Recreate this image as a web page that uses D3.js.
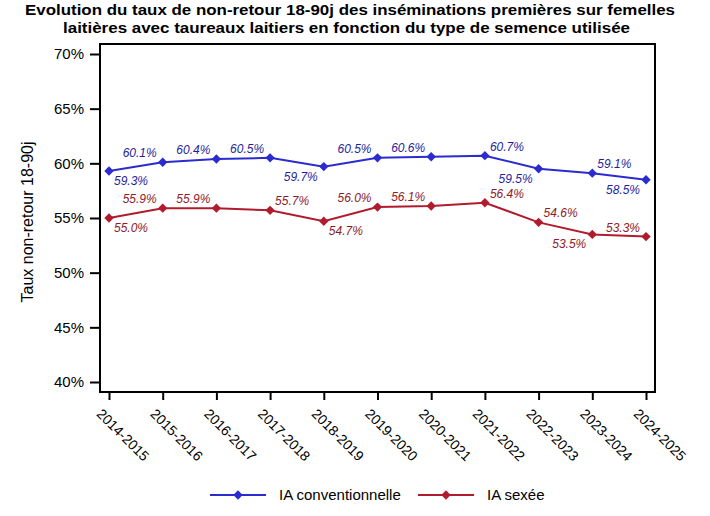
<!DOCTYPE html>
<html>
<head>
<meta charset="utf-8">
<script src="https://cdnjs.cloudflare.com/ajax/libs/d3/7.8.5/d3.min.js"></script>
<style>
  body { margin: 0; background: #ffffff; }
  svg text { font-family: Arial, "Liberation Sans", sans-serif; }
</style>
</head>
<body>
<div id="chart"></div>
<script>
// campagnes
var seasons = ["2014-2015", "2015-2016", "2016-2017", "2017-2018", "2018-2019", "2019-2020",
               "2020-2021", "2021-2022", "2022-2023", "2023-2024", "2024-2025"];
// taux de non-retour (%)
var conventional = [59.3, 60.1, 60.4, 60.5, 59.7, 60.5, 60.6, 60.7, 59.5, 59.1, 58.5];
var sexed        = [55.0, 55.9, 55.9, 55.7, 54.7, 56.0, 56.1, 56.4, 54.6, 53.5, 53.3];
// where each value label sits around its point
var convLabelSide  = ["br", "al", "al", "al", "bl", "al", "al", "ar", "bl", "ar", "bl"];
var sexedLabelSide = ["br", "al", "al", "ar", "br", "al", "al", "ar", "ar", "bl", "al"];
var yTicks = [40, 45, 50, 55, 60, 65, 70];
var seriesNames = ["IA conventionnelle", "IA sexée"];
var titleLines = ["Evolution du taux de non-retour 18-90j des inséminations premières sur femelles",
                  "laitières avec taureaux laitiers en fonction du type de semence utilisée"];

var W = 710, H = 516;
var frame = { left: 100, top: 44, right: 655, bottom: 392 };

var svg = d3.select("#chart").append("svg")
    .attr("width", W).attr("height", H);

// title (stretched to the width it has in the original)
svg.append("text")
    .attr("x", 25).attr("y", 15)
    .attr("textLength", 650).attr("lengthAdjust", "spacingAndGlyphs")
    .style("font-weight", "bold").style("font-size", "15px")
    .text(titleLines[0]);
svg.append("text")
    .attr("x", 63).attr("y", 33)
    .attr("textLength", 567).attr("lengthAdjust", "spacingAndGlyphs")
    .style("font-weight", "bold").style("font-size", "15px")
    .text(titleLines[1]);

var x = d3.scalePoint().domain(seasons).range([109, 646]);
var y = d3.scaleLinear().domain([40, 70]).range([382, 54]);

// frame
svg.append("rect")
    .attr("x", frame.left).attr("y", frame.top)
    .attr("width", frame.right - frame.left).attr("height", frame.bottom - frame.top)
    .attr("fill", "none").attr("stroke", "#000").attr("stroke-width", 2);

// y axis
var yAxis = svg.append("g")
    .attr("transform", "translate(" + frame.left + ",0)")
    .call(d3.axisLeft(y).tickValues(yTicks).tickSize(10).tickPadding(6)
        .tickFormat(function(d) { return d + "%"; }));
yAxis.select(".domain").remove();
yAxis.selectAll(".tick line").attr("stroke-width", 2);
yAxis.selectAll("text").style("font-size", "15px").attr("fill", "#000");

svg.append("text")
    .attr("transform", "translate(33," + ((frame.top + frame.bottom) / 2 + 4) + ") rotate(-90)")
    .attr("text-anchor", "middle")
    .style("font-size", "16px")
    .text("Taux non-retour 18-90j");

// x axis
var xAxis = svg.append("g")
    .attr("transform", "translate(0," + frame.bottom + ")")
    .call(d3.axisBottom(x).tickSize(8).tickPadding(0));
xAxis.select(".domain").remove();
xAxis.selectAll(".tick line").attr("stroke-width", 2);
xAxis.selectAll("text")
    .style("font-size", "14px")
    .attr("fill", "#000")
    .attr("text-anchor", "start")
    .attr("dy", null)
    .attr("transform", "translate(-8,17) rotate(45)");

var diamond = d3.symbol().type(d3.symbolSquare).size(44);

function drawSeries(values, sides, lineColor, labelColor) {
    var pts = values.map(function(v, i) { return { s: seasons[i], v: v, side: sides[i] }; });
    svg.append("path")
        .datum(pts)
        .attr("fill", "none")
        .attr("stroke", lineColor)
        .attr("stroke-width", 2)
        .attr("d", d3.line().x(function(d) { return x(d.s); }).y(function(d) { return y(d.v); }));
    svg.selectAll(null).data(pts).enter().append("path")
        .attr("d", diamond)
        .attr("fill", lineColor)
        .attr("transform", function(d) { return "translate(" + x(d.s) + "," + y(d.v) + ") rotate(45)"; });
    svg.selectAll(null).data(pts).enter().append("text")
        .attr("x", function(d) { return x(d.s) + (d.side[1] === "r" ? 5 : -6); })
        .attr("y", function(d) { return y(d.v) + (d.side[0] === "b" ? 14 : -5); })
        .attr("text-anchor", function(d) { return d.side[1] === "r" ? "start" : "end"; })
        .style("font-size", "12px")
        .style("font-style", "italic")
        .attr("fill", labelColor)
        .text(function(d) { return d.v.toFixed(1) + "%"; });
}

drawSeries(conventional, convLabelSide, "#2b2bcf", "#1f1f9e");
drawSeries(sexed, sexedLabelSide, "#b01c2e", "#8e1a2a");

// legend
var legendItems = [
    { name: seriesNames[0], color: "#2b2bcf", x0: 210 },
    { name: seriesNames[1], color: "#b01c2e", x0: 418 }
];
var lg = svg.selectAll(null).data(legendItems).enter().append("g")
    .attr("transform", function(d) { return "translate(" + d.x0 + ",495)"; });
lg.append("line").attr("x1", 0).attr("x2", 56).attr("y1", 0).attr("y2", 0)
    .attr("stroke", function(d) { return d.color; }).attr("stroke-width", 2);
lg.append("path").attr("d", diamond).attr("transform", "translate(28,0) rotate(45)")
    .attr("fill", function(d) { return d.color; });
lg.append("text").attr("x", 69).attr("y", 5)
    .style("font-size", "15px")
    .text(function(d) { return d.name; });
</script>
</body>
</html>
